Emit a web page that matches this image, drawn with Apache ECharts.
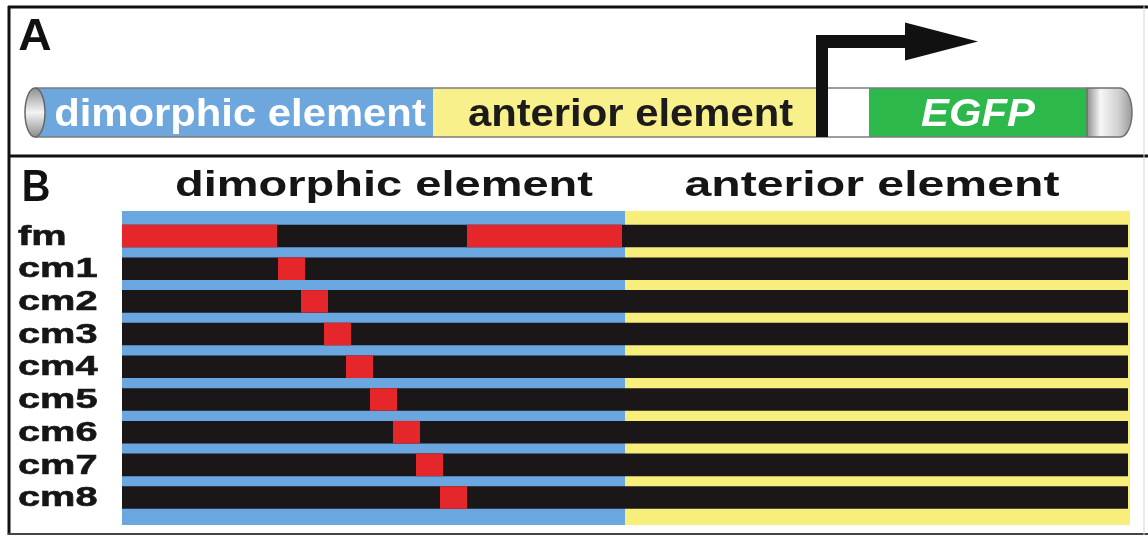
<!DOCTYPE html>
<html><head><meta charset="utf-8">
<script src="https://cdn.jsdelivr.net/npm/echarts@6/dist/echarts.min.js"></script>
<style>html,body{margin:0;padding:0;background:#fff}#c{width:1148px;height:536px}</style>
</head><body><div id="c"></div>
<script>
// ---------- Panel A: reporter construct (positions along the construct) ----------
const constructLabels = ['dimorphic element', 'anterior element', '', 'EGFP'];
const constructStarts = [45, 433, 816, 869];
const constructEnds   = [433, 816, 869, 1087];
const cylinderStart = 25;
const cylinderEnd = 1132;
const promoterPos = 816;

// ---------- Panel B: mutation scan ----------
const elementNames  = ['dimorphic element', 'anterior element'];
const elementStarts = [0, 503];
const elementEnds   = [503, 1008];
const sequenceLength = 1006;
const rowLabels = ['fm', 'cm1', 'cm2', 'cm3', 'cm4', 'cm5', 'cm6', 'cm7', 'cm8'];
const mutationStarts = [[0, 345], [156], [179], [202], [224], [248], [271], [294], [318]];
const mutationEnds   = [[155, 500], [183], [206], [229], [251], [275], [298], [321], [345]];

// ---------- styles ----------
const FONT = '"Liberation Sans", Arial, Helvetica, sans-serif';
const segColors = {'dimorphic element': '#6ea7de', 'anterior element': '#f8f08a', '': '#ffffff', 'EGFP': '#2db84b'};
const segTextColors = {'dimorphic element': '#ffffff', 'anterior element': '#1c1a1a', '': '#000', 'EGFP': '#ffffff'};
const segTextShift = {'dimorphic element': 1, 'anterior element': 6, '': 0, 'EGFP': 0};
const elemColors = {'dimorphic element': '#6aa6df', 'anterior element': '#f8ee7c'};
const BLACK = '#1b1719', RED = '#e5262a';

const segData = constructLabels.map((n, i) => [constructStarts[i], constructEnds[i], i]);
const elemData = elementNames.map((n, i) => [elementStarts[i], elementEnds[i], i]);
const rowData = rowLabels.map((r, i) => [0, sequenceLength, i]);
const mutData = [];
mutationStarts.forEach((arr, i) => arr.forEach((s, k) => mutData.push([s, mutationEnds[i][k], i])));
const labelData = rowLabels.map((r, i) => [0, i]);

const chart = echarts.init(document.getElementById('c'), null, {renderer: 'canvas'});

function span(api, a, b, yv) {
  const p0 = api.coord([a, yv]), p1 = api.coord([b, yv]);
  return [p0, p1];
}

const option = {
  animation: false,
  backgroundColor: '#ffffff',
  grid: [
    {left: 0, width: 1148, top: 88, height: 49},
    {left: 122, width: 1010, top: 211, height: 314}
  ],
  xAxis: [
    {gridIndex: 0, type: 'value', min: 0, max: 1148, show: false},
    {gridIndex: 1, type: 'value', min: 0, max: 1010, show: false}
  ],
  yAxis: [
    {gridIndex: 0, type: 'value', min: 0, max: 1, show: false},
    {gridIndex: 1, type: 'value', min: -0.765, max: 8.84, inverse: true, show: false}
  ],
  series: [
    // Panel A: construct segments
    {
      type: 'custom', xAxisIndex: 0, yAxisIndex: 0, data: segData, clip: false,
      renderItem: (params, api) => {
        const i = api.value(2);
        const name = constructLabels[i];
        const cs = params.coordSys;
        const [p0, p1] = span(api, api.value(0), api.value(1), 0.5);
        const children = [{
          type: 'rect', shape: {x: p0[0], y: cs.y, width: p1[0] - p0[0], height: cs.height},
          style: {fill: segColors[name]}
        }];
        if (name) {
          children.push({
            type: 'text', x: (p0[0] + p1[0]) / 2 + segTextShift[name], y: cs.y + cs.height / 2 + 3, scaleX: 1.1,
            style: {text: name, x: 0, y: 0, align: 'center', verticalAlign: 'middle',
              fill: segTextColors[name], fontSize: 38, fontWeight: 'bold',
              fontStyle: name === 'EGFP' ? 'italic' : 'normal', fontFamily: FONT}
          });
        }
        return {type: 'group', children};
      }
    },
    // Panel A: cylinder caps, outline, promoter arrow
    {
      type: 'custom', xAxisIndex: 0, yAxisIndex: 0, clip: false,
      data: [[cylinderStart, cylinderEnd, promoterPos, constructEnds[3], constructStarts[0]]],
      renderItem: (params, api) => {
        const cs = params.coordSys;
        const xs = api.coord([api.value(0), 0])[0];
        const xe = api.coord([api.value(1), 0])[0];
        const xp = api.coord([api.value(2), 0])[0];
        const xg = api.coord([api.value(3), 0])[0];
        const x1 = api.coord([api.value(4), 0])[0];
        const top = cs.y, bot = cs.y + cs.height, cy = cs.y + cs.height / 2, ry = cs.height / 2;
        const vGrad = new echarts.graphic.LinearGradient(0, 0, 0, 1, [
          {offset: 0, color: '#8c8c8c'}, {offset: 0.5, color: '#f4f4f4'}, {offset: 1, color: '#8a8a8a'}]);
        const hGrad = {type: 'linear', x: xg, y: 0, x2: xe, y2: 0, global: true, colorStops: [
          {offset: 0, color: '#8f8f8f'}, {offset: 0.3, color: '#f6f6f6'}, {offset: 0.7, color: '#d0d0d0'}, {offset: 1, color: '#9a9a9a'}]};
        const rrx = 12;
        const arrowTop = 35, barT = 13, barW = 12, headX = 89, headLen = 73, headHalf = 19;
        const ay = arrowTop + barT / 2;
        return {type: 'group', children: [
          {type: 'rect', shape: {x: xs + 10, y: top, width: x1 - xs - 8, height: cs.height},
            style: {fill: segColors[constructLabels[0]]}},
          {type: 'path', shape: {pathData:
            `M${xg} ${top} L${xe - rrx} ${top} A${rrx} ${ry} 0 0 1 ${xe - rrx} ${bot} L${xg} ${bot} Z`},
            style: {fill: hGrad, stroke: '#6f6f6f', lineWidth: 1.5}},
          {type: 'line', shape: {x1: xs + 10, y1: top, x2: xg, y2: top}, style: {stroke: '#7c7c7c', lineWidth: 1.5}},
          {type: 'line', shape: {x1: xs + 10, y1: bot, x2: xg, y2: bot}, style: {stroke: '#7c7c7c', lineWidth: 1.5}},
          {type: 'ellipse', shape: {cx: xs + 10, cy: cy, rx: 10, ry: ry},
            style: {fill: vGrad, stroke: '#666', lineWidth: 1.5}},
          {type: 'polygon', shape: {points: [
            [xp, bot], [xp, arrowTop], [xp + headX, arrowTop], [xp + headX, ay - headHalf],
            [xp + headX + headLen, ay], [xp + headX, ay + headHalf], [xp + headX, arrowTop + barT],
            [xp + barW, arrowTop + barT], [xp + barW, bot]]},
            style: {fill: '#111111'}}
        ]};
      }
    },
    // Panel B: element backgrounds
    {
      type: 'custom', xAxisIndex: 1, yAxisIndex: 1, data: elemData, clip: false,
      renderItem: (params, api) => {
        const cs = params.coordSys;
        const [p0, p1] = span(api, api.value(0), api.value(1), 0);
        return {type: 'rect', shape: {x: p0[0], y: cs.y, width: p1[0] - p0[0], height: cs.height},
          style: {fill: elemColors[elementNames[api.value(2)]]}};
      }
    },
    // Panel B: black sequence bars
    {
      type: 'custom', xAxisIndex: 1, yAxisIndex: 1, data: rowData, clip: false,
      renderItem: (params, api) => {
        const [p0, p1] = span(api, api.value(0), api.value(1), api.value(2));
        const h = api.size([0, 1])[1] * 0.69;
        return {type: 'rect', shape: {x: p0[0], y: p0[1] - h / 2, width: p1[0] - p0[0], height: h},
          style: {fill: BLACK}};
      }
    },
    // Panel B: mutated regions
    {
      type: 'custom', xAxisIndex: 1, yAxisIndex: 1, data: mutData, clip: false,
      renderItem: (params, api) => {
        const [p0, p1] = span(api, api.value(0), api.value(1), api.value(2));
        const h = api.size([0, 1])[1] * 0.69;
        return {type: 'rect', shape: {x: p0[0], y: p0[1] - h / 2, width: p1[0] - p0[0], height: h},
          style: {fill: RED}};
      }
    },
    // Panel B: row labels
    {
      type: 'custom', xAxisIndex: 1, yAxisIndex: 1, data: labelData, clip: false,
      renderItem: (params, api) => {
        const p = api.coord([0, api.value(1)]);
        return {type: 'text', x: 18, y: p[1] + 1, scaleX: 1.42,
          style: {text: rowLabels[api.value(1)], x: 0, y: 0, align: 'left', verticalAlign: 'middle',
            fill: '#151515', fontSize: 28, fontWeight: 'bold', fontFamily: FONT,
            stroke: '#151515', lineWidth: 0.6}};
      }
    }
  ],
  graphic: [
    {type: 'line', shape: {x1: 8, y1: 7, x2: 1148, y2: 7}, style: {stroke: '#111', lineWidth: 3}},
    {type: 'line', shape: {x1: 9, y1: 6, x2: 9, y2: 535}, style: {stroke: '#111', lineWidth: 3}},
    {type: 'line', shape: {x1: 8, y1: 156, x2: 1148, y2: 156}, style: {stroke: '#111', lineWidth: 3}},
    {type: 'line', shape: {x1: 8, y1: 534, x2: 1148, y2: 534}, style: {stroke: '#444', lineWidth: 2}},
    {type: 'line', shape: {x1: 1144, y1: 6, x2: 1144, y2: 535}, style: {stroke: '#d4d4d4', lineWidth: 1}},
    {type: 'text', x: 35, y: 38, scaleX: 1.05,
      style: {text: 'A', x: 0, y: 0, align: 'center', verticalAlign: 'middle', fill: '#111',
        fontSize: 44, fontWeight: 'bold', fontFamily: FONT}},
    {type: 'text', x: 36, y: 189, scaleX: 0.9,
      style: {text: 'B', x: 0, y: 0, align: 'center', verticalAlign: 'middle', fill: '#111',
        fontSize: 44, fontWeight: 'bold', fontFamily: FONT}},
    {type: 'text', x: 384, y: 186, scaleX: 1.343,
      style: {text: elementNames[0], x: 0, y: 0, align: 'center', verticalAlign: 'middle', fill: '#151515',
        fontSize: 35, fontWeight: 'bold', fontFamily: FONT}},
    {type: 'text', x: 872, y: 186, scaleX: 1.377,
      style: {text: elementNames[1], x: 0, y: 0, align: 'center', verticalAlign: 'middle', fill: '#151515',
        fontSize: 35, fontWeight: 'bold', fontFamily: FONT}}
  ]
};
chart.setOption(option);
</script></body></html>
